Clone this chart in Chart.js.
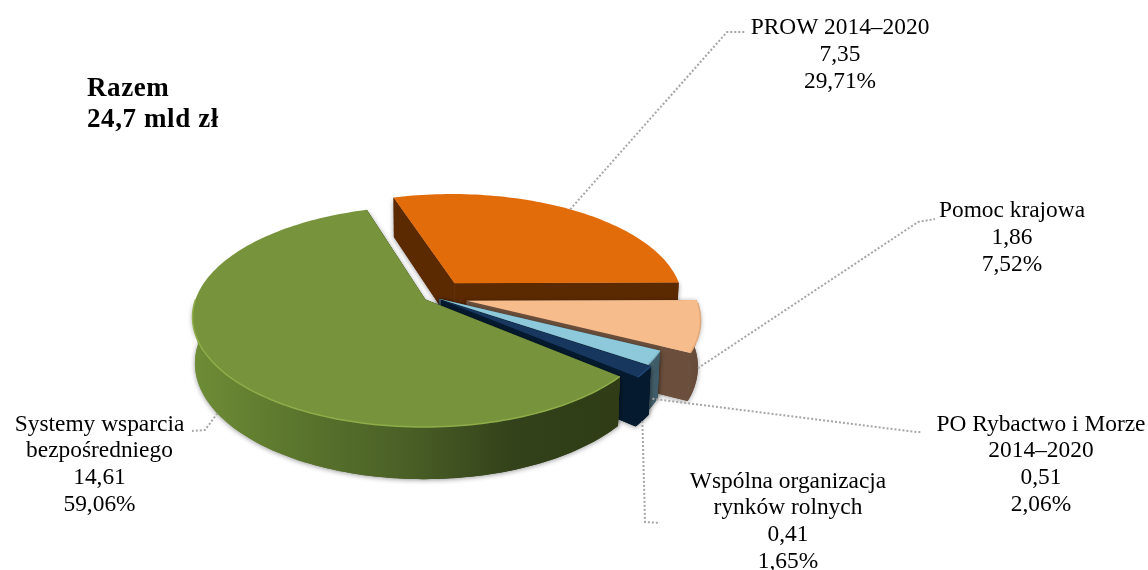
<!DOCTYPE html>
<html lang="pl">
<head>
<meta charset="utf-8">
<title>Razem 24,7 mld zł</title>
<script src="https://cdn.jsdelivr.net/npm/chart.js@4"></script>
<style>
  html, body { margin: 0; padding: 0; background: #fff; }
  canvas { display: block; }
</style>
</head>
<body>
<canvas id="chart" width="1148" height="570"></canvas>
<script>
// data
const categories = ['PROW 2014–2020', 'Pomoc krajowa', 'PO Rybactwo i Morze', 'Wspólna organizacja rynków rolnych', 'Systemy wsparcia bezpośredniego'];
const values = [7.35, 1.86, 0.51, 0.41, 14.61];
const valueLabels = ['7,35', '1,86', '0,51', '0,41', '14,61'];
const shareLabels = ['29,71%', '7,52%', '2,06%', '1,65%', '59,06%'];
const nameLines = [['PROW 2014–2020'], ['Pomoc krajowa'], ['PO Rybactwo i Morze', '2014–2020'], ['Wspólna organizacja', 'rynków rolnych'], ['Systemy wsparcia', 'bezpośredniego']];
const totalLines = ['Razem', '24,7 mld zł'];

// styling
const topColors = ['#E26B0A', '#F6BC8C', '#8DC9DA', '#17375E', '#77933C'];
const faceColors = ['#5C2A00', '#6B4F3C', '#3E5A66', '#051A2E', '#3A4A1C'];
const wallStops = [
  ['#5C2A00', '#5C2A00'],
  ['#6B4F3C', '#64493A'],
  ['#46626E', '#3E5A66'],
  ['#051A2E', '#051A2E'],
  ['#6E8D36', '#5A752D', '#4A5F26', '#33421A', '#2F3C15']
];
const rimColors = ['#CC6009', '#E3A97A', '#7FB8C8', '#1F4674', '#8FAE4A'];
const sliceOffsets = [130, 120, 24, 36, 32];
const FONT = '"Liberation Serif", serif';
const TEXT_SIZE = 23.4;
const LINE_H = 26.7;

// tilted disc "camera"
const CX = 433, CY = 297, RX = 229, RY = 107, PERSP = 0.155, BOTTOM_SHRINK = 0.99, DEPTH = 45;

function project(u, v, lower) {
  const w = 1 - PERSP * v;
  let x = RX * u / w;
  let y = RY * v / w;
  if (lower) {
    x *= BOTTOM_SHRINK;
    y = y * BOTTOM_SHRINK + DEPTH / w;
  }
  return { x: CX + x, y: CY + y };
}

// point on a slice in disc units, r = 1 is the rim
function slicePoint(el, angle, r) {
  const R = el.outerRadius;
  const mid = (el.startAngle + el.endAngle) / 2;
  const off = (el.options.offset || 0) / 4 / R;
  return { u: r * Math.cos(angle) + off * Math.cos(mid), v: r * Math.sin(angle) + off * Math.sin(mid) };
}

// rim of a slice; frontOnly keeps the part that faces the viewer
function rimPoints(el, lower, frontOnly) {
  const pts = [];
  const n = Math.max(6, Math.ceil((el.endAngle - el.startAngle) * 40));
  for (let i = 0; i <= n; i++) {
    const a = el.startAngle + (el.endAngle - el.startAngle) * i / n;
    if (frontOnly && Math.sin(a) < 0) continue;
    const p = slicePoint(el, a, 1);
    pts.push(project(p.u, p.v, lower));
  }
  return pts;
}

function tracePoly(ctx, pts) {
  ctx.beginPath();
  pts.forEach((p, i) => (i ? ctx.lineTo(p.x, p.y) : ctx.moveTo(p.x, p.y)));
  ctx.closePath();
}

function fillWalls(ctx, el, i) {
  const apexP = slicePoint(el, 0, 0);
  const apexTop = project(apexP.u, apexP.v, false);
  const apexLow = project(apexP.u, apexP.v, true);
  const top = rimPoints(el, false, false);
  const low = rimPoints(el, true, false);

  // the two cut faces
  ctx.fillStyle = faceColors[i];
  tracePoly(ctx, [apexTop, top[0], low[0], apexLow]);
  ctx.fill();
  tracePoly(ctx, [apexTop, top[top.length - 1], low[low.length - 1], apexLow]);
  ctx.fill();

  // the curved outer wall
  const frontTop = rimPoints(el, false, true);
  const frontLow = rimPoints(el, true, true);
  if (frontTop.length > 1) {
    const xs = frontTop.concat(frontLow).map(p => p.x);
    const grad = ctx.createLinearGradient(Math.min(...xs), 0, Math.max(...xs), 0);
    wallStops[i].forEach((c, k, all) => grad.addColorStop(k / (all.length - 1), c));
    ctx.fillStyle = grad;
    tracePoly(ctx, frontTop.concat(frontLow.slice().reverse()));
    ctx.fill();
  }
}

function drawWalls(ctx, el, i) {
  // once with a soft shadow, once clean so the shadow stays outside the slice
  ctx.save();
  ctx.shadowColor = 'rgba(0,0,0,0.4)';
  ctx.shadowBlur = 5;
  ctx.shadowOffsetY = 1;
  fillWalls(ctx, el, i);
  ctx.restore();
  fillWalls(ctx, el, i);
}

function drawTop(ctx, el, i) {
  const apexP = slicePoint(el, 0, 0);
  const apex = project(apexP.u, apexP.v, false);
  ctx.fillStyle = el.options.backgroundColor;
  tracePoly(ctx, [apex].concat(rimPoints(el, false, false)));
  ctx.fill();
  const near = rimPoints(el, false, true);
  ctx.strokeStyle = rimColors[i];
  ctx.lineWidth = 1.5;
  ctx.beginPath();
  near.forEach((p, k) => (k ? ctx.lineTo(p.x, p.y) : ctx.moveTo(p.x, p.y)));
  ctx.stroke();
}

// leader line: starts on the slice, ends next to its label
const leaders = [
  { slice: 0, wall: 0, elbow: [727, 32], end: [746, 32] },
  { slice: 1, wall: 0.9, elbow: [918, 222], end: [935, 219] },
  { slice: 2, wall: 0.85, elbow: [917, 432], end: [921, 432] },
  { slice: 3, wall: 1, elbow: [645, 522], end: [660, 523] },
  { slice: 4, wall: 1, elbow: [205, 430], end: [192, 431] }
];
const labelSpots = [
  { x: 840, y: 28 },
  { x: 1012, y: 211 },
  { x: 1041, y: 424.5 },
  { x: 788, y: 481.5 },
  { x: 99.5, y: 424.5 }
];
const totalSpot = { x: 87, y: 89, step: 31.5 };

const pseudo3dPie = {
  id: 'pseudo3dPie',
  beforeDatasetDraw(chart, args) {
    const ctx = chart.ctx;
    const arcs = args.meta.data;
    ctx.save();
    arcs.forEach((el, i) => drawWalls(ctx, el, i));
    arcs.forEach((el, i) => drawTop(ctx, el, i));
    ctx.restore();
    return false; // flat arcs replaced by the projected ones
  },
  afterDraw(chart) {
    const ctx = chart.ctx;
    const arcs = chart.getDatasetMeta(0).data;
    ctx.save();

    ctx.strokeStyle = '#A6A6A6';
    ctx.lineWidth = 2;
    ctx.setLineDash([2, 2]);
    leaders.forEach(l => {
      const el = arcs[l.slice];
      const p = slicePoint(el, (el.startAngle + el.endAngle) / 2, 1);
      const a = project(p.u, p.v, false);
      const b = project(p.u, p.v, true);
      ctx.beginPath();
      ctx.moveTo(a.x + (b.x - a.x) * l.wall, a.y + (b.y - a.y) * l.wall);
      ctx.lineTo(l.elbow[0], l.elbow[1]);
      ctx.lineTo(l.end[0], l.end[1]);
      ctx.stroke();
    });
    ctx.setLineDash([]);

    ctx.fillStyle = '#000';
    ctx.textBaseline = 'middle';
    ctx.textAlign = 'center';
    ctx.font = TEXT_SIZE + 'px ' + FONT;
    labelSpots.forEach((s, i) => {
      const lines = nameLines[i].concat(valueLabels[i], shareLabels[i]);
      lines.forEach((t, k) => ctx.fillText(t, s.x, s.y + k * LINE_H));
    });

    ctx.textAlign = 'left';
    ctx.font = 'bold 27px ' + FONT;
    ctx.letterSpacing = '0.6px';
    totalLines.forEach((t, k) => ctx.fillText(t, totalSpot.x, totalSpot.y + k * totalSpot.step));
    ctx.restore();
  }
};

new Chart(document.getElementById('chart'), {
  type: 'pie',
  data: {
    labels: categories,
    datasets: [{
      data: values,
      backgroundColor: topColors,
      borderWidth: 0,
      offset: sliceOffsets
    }]
  },
  options: {
    responsive: false,
    animation: false,
    rotation: -17.3,
    radius: 200,
    events: [],
    plugins: { legend: { display: false }, tooltip: { enabled: false } }
  },
  plugins: [pseudo3dPie]
});
</script>
</body>
</html>
